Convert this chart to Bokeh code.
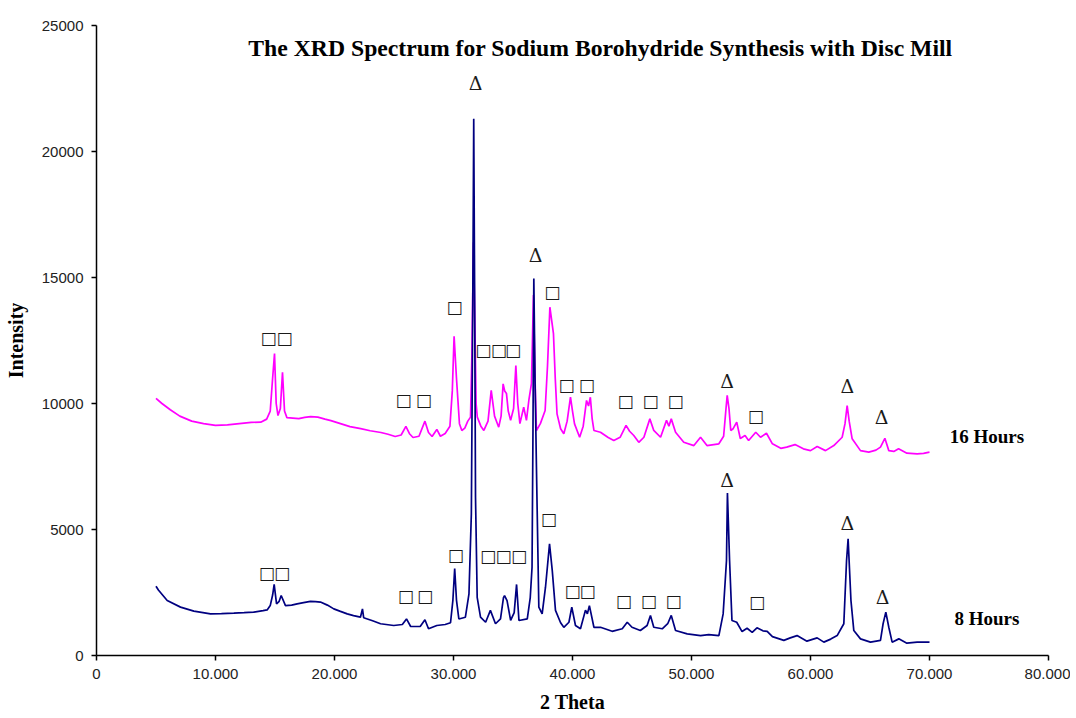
from bokeh.plotting import figure
from bokeh.models import FixedTicker, Label, ColumnDataSource, Range1d
from bokeh.core.properties import value
from bokeh.embed import file_html
from bokeh.resources import INLINE

# ---------------- data ----------------
x_ticks = [0, 10, 20, 30, 40, 50, 60, 70, 80]
x_tick_labels = ["0", "10.000", "20.000", "30.000", "40.000", "50.000", "60.000", "70.000", "80.000"]
y_ticks = [0, 5000, 10000, 15000, 20000, 25000]
y_tick_labels = ["0", "5000", "10000", "15000", "20000", "25000"]

h16_x = [5.0, 5.5, 6.2, 7.0, 8.0, 9.0, 10.0, 11.0, 12.0, 13.0, 13.8, 14.3, 14.6, 14.8, 14.96, 15.1, 15.25,
         15.45, 15.63, 15.8, 16.0, 16.5, 17.0, 17.5, 18.0, 18.6, 19.2, 19.7, 20.5, 21.3, 22.2, 23.0, 23.9,
         24.5, 25.1, 25.6, 26.0, 26.3, 26.6, 27.1, 27.6, 27.9, 28.2, 28.6, 28.9, 29.3, 29.7, 29.9, 30.05,
         30.25, 30.5, 30.7, 30.95, 31.2, 31.43, 31.55, 31.68, 31.8, 31.9, 32.0, 32.3, 32.55, 32.9, 33.17,
         33.45, 33.8, 34.0, 34.17, 34.3, 34.45, 34.6, 34.8, 35.05, 35.24, 35.4, 35.58, 35.9, 36.13, 36.33,
         36.55, 36.72, 36.85, 36.97, 37.3, 37.7, 37.9, 38.1, 38.4, 38.55, 38.7, 39.0, 39.27, 39.55, 39.83,
         40.0, 40.17, 40.6, 40.9, 41.18, 41.35, 41.5, 41.65, 41.8, 42.35, 43.0, 43.47, 44.0, 44.5, 44.8,
         45.15, 45.57, 46.0, 46.5, 46.83, 47.4, 47.9, 48.1, 48.3, 48.66, 49.35, 50.2, 50.76, 51.3, 52.3,
         52.7, 52.9, 53.0, 53.15, 53.3, 53.5, 53.8, 54.1, 54.5, 54.8, 55.4, 55.8, 56.3, 56.8, 57.5, 58.0,
         58.7, 59.4, 60.0, 60.56, 61.26, 61.96, 62.66, 62.9, 63.08, 63.25, 63.5, 64.2, 64.9, 65.5, 65.88,
         66.25, 66.58, 67.0, 67.4, 68.1, 68.96, 69.5, 70.0]
h16_y = [10200, 10000, 9750, 9500, 9300, 9200, 9130, 9150, 9200, 9250, 9260, 9380, 9700, 11000, 11980, 10000, 9520,
         9800, 11240, 9700, 9440, 9420, 9400, 9450, 9480, 9460, 9380, 9320, 9200, 9080, 9000, 8920, 8850,
         8780, 8690, 8750, 9090, 8800, 8650, 8700, 9300, 8850, 8690, 8970, 8700, 8810, 9100, 10500, 12670,
         11000, 9200, 8930, 9020, 9300, 9460, 12000, 16400, 13000, 10000, 9460, 9100, 8930, 9300, 10520,
         9500, 9060, 9500, 10780, 10500, 10400, 9700, 9330, 9800, 11510, 10000, 9200, 9850, 9330, 10120,
         10790, 14300, 11000, 8930, 9200, 9720, 11500, 13820, 12770, 11000, 9590, 9000, 8800, 9300, 10250,
         9700, 9190, 8660, 9100, 10120, 9900, 10250, 9400, 8930, 8860, 8650, 8530, 8660, 9130, 8900,
         8730, 8460, 8660, 9390, 8930, 8660, 9330, 9100, 9390, 8860, 8460, 8330, 8660, 8330, 8400,
         8700, 9800, 10320, 9800, 8930, 9000, 9260, 8610, 8730, 8530, 8860, 8660, 8820, 8400, 8220, 8270,
         8370, 8200, 8130, 8290, 8130, 8330, 8660, 9200, 9920, 9300, 8600, 8130, 8070, 8150, 8270,
         8620, 8130, 8100, 8200, 8030, 8000, 8020, 8070]

h8_x = [5.0, 5.2, 5.94, 7.06, 8.18, 9.58, 10.5, 11.54, 12.4, 13.2, 14.0, 14.34, 14.6, 14.8, 14.93, 15.13, 15.35,
        15.52, 15.88, 16.4, 16.86, 17.4, 17.98, 18.4, 18.82, 19.4, 19.94, 20.5, 21.07, 21.6, 22.18, 22.35,
        22.45, 23.2, 23.87, 24.5, 24.98, 25.7, 26.05, 26.4, 27.2, 27.6, 27.9, 28.6, 29.3, 29.75, 29.95, 30.1,
        30.25, 30.45, 31.0, 31.3, 31.5, 31.62, 31.7, 31.78, 31.85, 31.99, 32.27, 32.7, 33.1, 33.53, 33.95,
        34.2, 34.29, 34.5, 34.8, 35.1, 35.3, 35.5, 36.2, 36.45, 36.6, 36.68, 36.75, 36.85, 36.97, 37.17,
        37.45, 37.73, 38.07, 38.3, 38.57, 39.0, 39.27, 39.7, 39.94, 40.25, 40.67, 41.09, 41.25, 41.42, 41.8,
        42.35, 43.33, 44.18, 44.6, 45.0, 45.7, 46.27, 46.55, 46.83, 47.54, 48.0, 48.3, 48.66, 49.64, 50.76,
        51.45, 52.3, 52.66, 52.94, 53.02, 53.2, 53.4, 53.8, 54.25, 54.67, 55.1, 55.5, 56.0, 56.36, 56.8,
        57.76, 58.3, 58.87, 59.7, 60.56, 61.12, 61.7, 62.24, 62.8, 63.03, 63.16, 63.4, 63.64, 64.2, 65.04,
        65.88, 66.1, 66.33, 66.58, 66.86, 67.42, 68.1, 68.96, 70.0]
h8_y = [2750, 2600, 2180, 1920, 1760, 1650, 1660, 1680, 1700, 1720, 1780, 1810, 1980, 2400, 2820, 2050, 2150,
        2380, 1980, 2000, 2050, 2100, 2150, 2140, 2120, 2000, 1850, 1750, 1650, 1580, 1520, 1850,
        1500, 1380, 1260, 1220, 1190, 1230, 1450, 1150, 1150, 1420, 1060, 1190, 1230, 1300, 2200, 3450,
        2200, 1450, 1520, 2450, 5620, 14000, 21300, 14000, 6280, 2310, 1520, 1320, 1790, 1260, 1450,
        2300, 2380, 2180, 1390, 1700, 2820, 1390, 1450, 2300, 3500, 9000, 14960, 11000, 7470, 1920,
        1650, 2710, 4430, 3370, 1790, 1300, 1120, 1320, 1920, 1190, 1060, 1800, 1650, 1980, 1120,
        1120, 960, 1060, 1320, 1120, 990, 1190, 1590, 1120, 1060, 1260, 1590, 990, 860, 790,
        830, 790, 1650, 3770, 6450, 3770, 1390, 1320, 950, 1080, 920, 1100, 980, 960, 750,
        600, 700, 790, 570, 700, 530, 650, 790, 1260, 3770, 4630, 2180, 990, 660, 530,
        600, 1260, 1720, 1120, 530, 660, 490, 530, 530]

SQ = "\u25a1"
TR = "\u0394"
ann16_x = [14.45, 15.8, 25.8, 27.5, 30.08, 32.5, 33.8, 35.0, 38.3, 39.5, 41.2, 44.45, 46.55, 48.66, 55.4]
ann16_y = [12580, 12580, 10120, 10120, 13810, 12140, 12140, 12140, 14440, 10750, 10750, 10080, 10080, 10080, 9520]
tri16_x = [31.85, 36.9, 53.0, 63.1, 65.97]
tri16_y = [22700, 15910, 10910, 10710, 9480]

ann8_x = [14.3, 15.6, 26.0, 27.6, 30.2, 32.9, 34.2, 35.5, 38.0, 40.0, 41.26, 44.3, 46.4, 48.5, 55.5]
ann8_y = [3290, 3290, 2380, 2380, 3970, 3930, 3930, 3930, 5400, 2540, 2540, 2180, 2180, 2180, 2140]
tri8_x = [53.0, 63.1, 66.05]
tri8_y = [6980, 5240, 2340]

series_labels = ["16 Hours", "8 Hours"]
title_text = "The XRD Spectrum for Sodium Borohydride Synthesis with Disc Mill"

# ---------------- figure ----------------
p = figure(width=1070, height=716, output_backend="svg", toolbar_location=None,
           x_range=Range1d(0, 80), y_range=Range1d(0, 25000),
           min_border_left=96, min_border_right=22, min_border_top=25, min_border_bottom=61)
p.xgrid.visible = False
p.ygrid.visible = False
p.outline_line_color = None
p.background_fill_color = "white"

p.xaxis.ticker = FixedTicker(ticks=x_ticks)
p.xaxis.major_label_overrides = dict(zip(x_ticks, x_tick_labels))
p.yaxis.ticker = FixedTicker(ticks=y_ticks)
p.yaxis.major_label_overrides = dict(zip(y_ticks, y_tick_labels))
for ax in (p.xaxis[0], p.yaxis[0]):
    ax.axis_line_color = "black"
    ax.axis_line_width = 1.5
    ax.major_tick_line_color = "black"
    ax.major_tick_line_width = 1.5
    ax.major_tick_in = 0
    ax.major_tick_out = 5
    ax.minor_tick_line_color = None
    ax.major_label_text_font = "Liberation Sans"
    ax.major_label_text_font_size = "15px"
    ax.major_label_text_color = "#222222"
    ax.axis_label_text_font = "Liberation Serif"
    ax.axis_label_text_font_style = "bold"
    ax.axis_label_text_font_size = "20px"
    ax.axis_label_text_color = "black"
p.xaxis.axis_label = "2 Theta"
p.yaxis.axis_label = "Intensity"
p.xaxis.major_label_standoff = 8
p.yaxis.major_label_standoff = 8
p.xaxis.axis_label_standoff = 9
p.yaxis.axis_label_standoff = 12

p.line(h16_x, h16_y, line_color="#FF00FF", line_width=1.7)
p.line(h8_x, h8_y, line_color="#000080", line_width=1.7)

def add_marks(xs, ys, txt, font, size, style="normal"):
    src = ColumnDataSource(dict(x=xs, y=ys, t=[txt] * len(xs)))
    p.text(x="x", y="y", text="t", source=src, text_font=value(font), text_font_size=size,
           text_font_style=style, text_align="center", text_baseline="middle", text_color="#1a1a1a")

add_marks(ann16_x, ann16_y, SQ, "DejaVu Sans", "17px", "bold")
add_marks(ann8_x, ann8_y, SQ, "DejaVu Sans", "17px", "bold")
add_marks(tri16_x, tri16_y, TR, "DejaVu Serif", "19px")
add_marks(tri8_x, tri8_y, TR, "DejaVu Serif", "19px")

p.add_layout(Label(x=71.7, y=8690, text=series_labels[0], text_font="Liberation Serif",
                   text_font_style="bold", text_font_size="19px", text_baseline="middle", text_color="black"))
p.add_layout(Label(x=72.1, y=1470, text=series_labels[1], text_font="Liberation Serif",
                   text_font_style="bold", text_font_size="19px", text_baseline="middle", text_color="black"))
p.add_layout(Label(x=42.35, y=24090, text=title_text, text_font="Liberation Serif",
                   text_font_style="bold", text_font_size="23.7px", text_align="center",
                   text_baseline="middle", text_color="black"))

open("out.html", "w").write(file_html(p, INLINE))
